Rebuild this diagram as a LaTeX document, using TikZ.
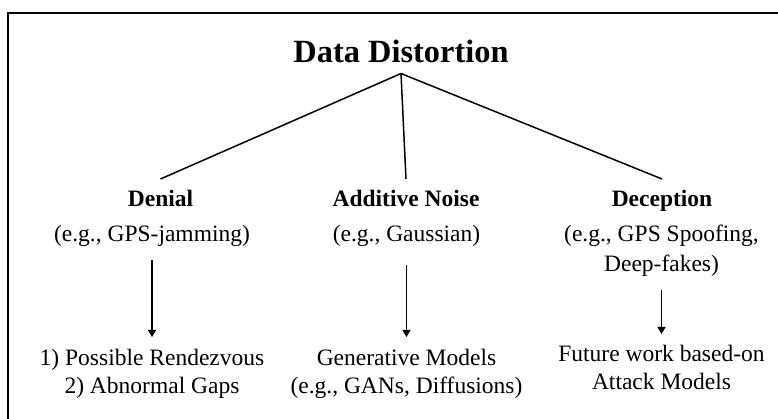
\documentclass[tikz,border=0pt]{standalone}
\usepackage{fontspec}
\setmainfont{Liberation Serif}
\usetikzlibrary{arrows.meta}
\begin{document}
\begin{tikzpicture}[x=1pt,y=-1pt,
  titlestyle/.style={font=\fontsize{32.4}{38}\selectfont\bfseries, inner xsep=0pt, inner ysep=10pt, anchor=base},
  headstyle/.style={font=\fontsize{23.5}{28}\selectfont\bfseries, inner xsep=0pt, inner ysep=11.5pt, anchor=base},
  exstyle/.style={font=\fontsize{23.5}{30}\selectfont, inner xsep=0pt, inner ysep=13pt, align=center, anchor=base},
  outstyle/.style={font=\fontsize{23.5}{27.5}\selectfont, inner xsep=0pt, inner ysep=12pt, align=center, anchor=base},
  treeline/.style={line width=1.5pt},
  arr/.style={line width=1.1pt, -{Triangle[length=7pt,width=8pt]}},
  frame/.style={line width=2.5pt}
]
\clip (0,0) rectangle (778,419);
\draw[frame] (8,430) -- (8,13) -- (790,13);

\node[titlestyle] (title) at (401,63) {Data Distortion};

\node[headstyle] (den) at (160.5,207) {Denial};
\node[headstyle] (add) at (406,207) {Additive Noise};
\node[headstyle] (dec) at (662,207) {Deception};

\node[exstyle] (denex) at (152,242) {(e.g., GPS-jamming)};
\node[exstyle, inner ysep=18pt] (addex) at (406.5,242) {(e.g., Gaussian)};
\node[exstyle] (decex) at (661.5,272) {(e.g., GPS Spoofing,\\Deep-fakes)};

\node[outstyle] (denout) at (152,393) {1) Possible Rendezvous\\2) Abnormal Gaps};
\node[outstyle] (addout) at (406.5,393) {Generative Models\\(e.g., GANs, Diffusions)};
\node[outstyle, inner ysep=11pt] (decout) at (661.5,389) {Future work based-on\\Attack Models};

\draw[treeline] (title.south) -- (den.north);
\draw[treeline] (title.south) -- (add.north);
\draw[treeline] (title.south) -- (dec.north);

\draw[arr] (denex) -- (denout);
\draw[arr] (addex) -- (addout);
\draw[arr] (decex) -- (decout);
\end{tikzpicture}
\end{document}
